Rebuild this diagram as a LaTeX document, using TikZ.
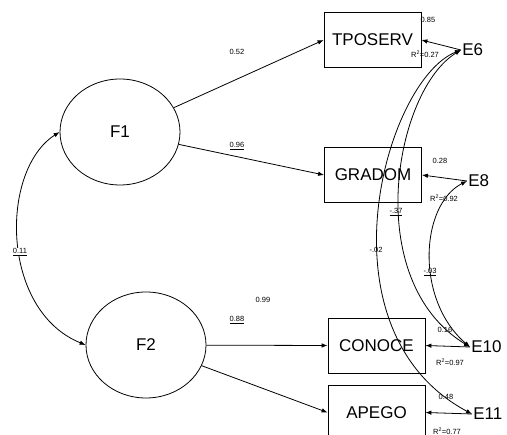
\documentclass[tikz,border=0pt]{standalone}
\usepackage{fontspec}
\setmainfont{Liberation Sans}
\usetikzlibrary{shapes.geometric,arrows.meta}
\begin{document}
\begin{tikzpicture}[x=1pt,y=-1pt,line width=0.8pt,
  >={Latex[length=6pt,width=4.5pt]},
  latent/.style={draw,ellipse,minimum width=120pt,minimum height=106pt,inner sep=0pt,font=\fontsize{17}{19}\selectfont},
  obs/.style={draw,rectangle,minimum width=97pt,minimum height=55pt,inner sep=0pt,font=\fontsize{17}{19}\selectfont},
  err/.style={anchor=west,inner sep=1pt,font=\fontsize{17}{19}\selectfont},
  lab/.style={inner sep=0.5pt,font=\fontsize{7.5}{8.5}\selectfont}]
\useasboundingbox (0,0) rectangle (507,435);
\clip (0,0) rectangle (507,435);
\fill[white] (0,0) rectangle (507,435);
% latent factors
\node[latent] (F1) at (120,132) {F1};
\node[latent] (F2) at (146,345) {F2};
% observed variables
\node[obs] (tpo) at (372.5,40) {TPOSERV};
\node[obs] (gra) at (373,175) {GRADOM};
\node[obs] (con) at (376.5,345.5) {CONOCE};
\node[obs] (ape) at (376.5,412.5) {APEGO};
% error terms
\node[err] (E6) at (461,50) {E6};
\node[err] (E8) at (467,181) {E8};
\node[err] (E10) at (470,347) {E10};
\node[err] (E11) at (472,414) {E11};
% loadings
\draw[->] (F1) -- (tpo.west);
\draw[->] (F1) -- (gra.west);
\draw[->] (F2) -- (con.west);
\draw[->] (F2) -- (ape.west);
% error paths
\draw[->] (E6.west) -- (tpo.east);
\draw[->] (E8.west) -- (gra.east);
\draw[->] (E10.west) -- (con.east);
\draw[->] (E11.west) -- (ape.east);
% factor covariance
\draw[<->] (F1.west) .. controls (0,170) and (0,310) .. (F2.west);
% error covariances
\draw[<->] (E6.west) .. controls (395,90) and (360,280) .. (E10.west);
\draw[<->] (E6.west) .. controls (385,80) and (315,330) .. (E11.west);
\draw[<->] (E8.west) .. controls (420,205) and (415,300) .. (E10.west);
% labels
\node[lab] (l1) at (237,52) {0.52};
\node[lab] (l2) at (237,146) {\underline{0.96}};
\node[lab] (l3) at (263,300) {0.99};
\node[lab] (l4) at (237,320) {\underline{0.88}};
\node[lab,fill=white] (l5) at (20,252) {\underline{0.11}};
\node[lab] (l6) at (428,20) {0.85};
\node[lab] (l7) at (425,54) {R\textsuperscript{2}=0.27};
\node[lab] (l8) at (440,161) {0.28};
\node[lab] (l9) at (444,198) {R\textsuperscript{2}=0.92};
\node[lab] (l10) at (396,212) {\underline{-.37}};
\node[lab] (l11) at (376,250) {-.02};
\node[lab] (l12) at (430,272) {\underline{-.03}};
\node[lab] (l13) at (445,330) {0.16};
\node[lab] (l14) at (450,362) {R\textsuperscript{2}=0.97};
\node[lab] (l15) at (446,397) {0.48};
\node[lab] (l16) at (447,431) {R\textsuperscript{2}=0.77};
\end{tikzpicture}
\end{document}
